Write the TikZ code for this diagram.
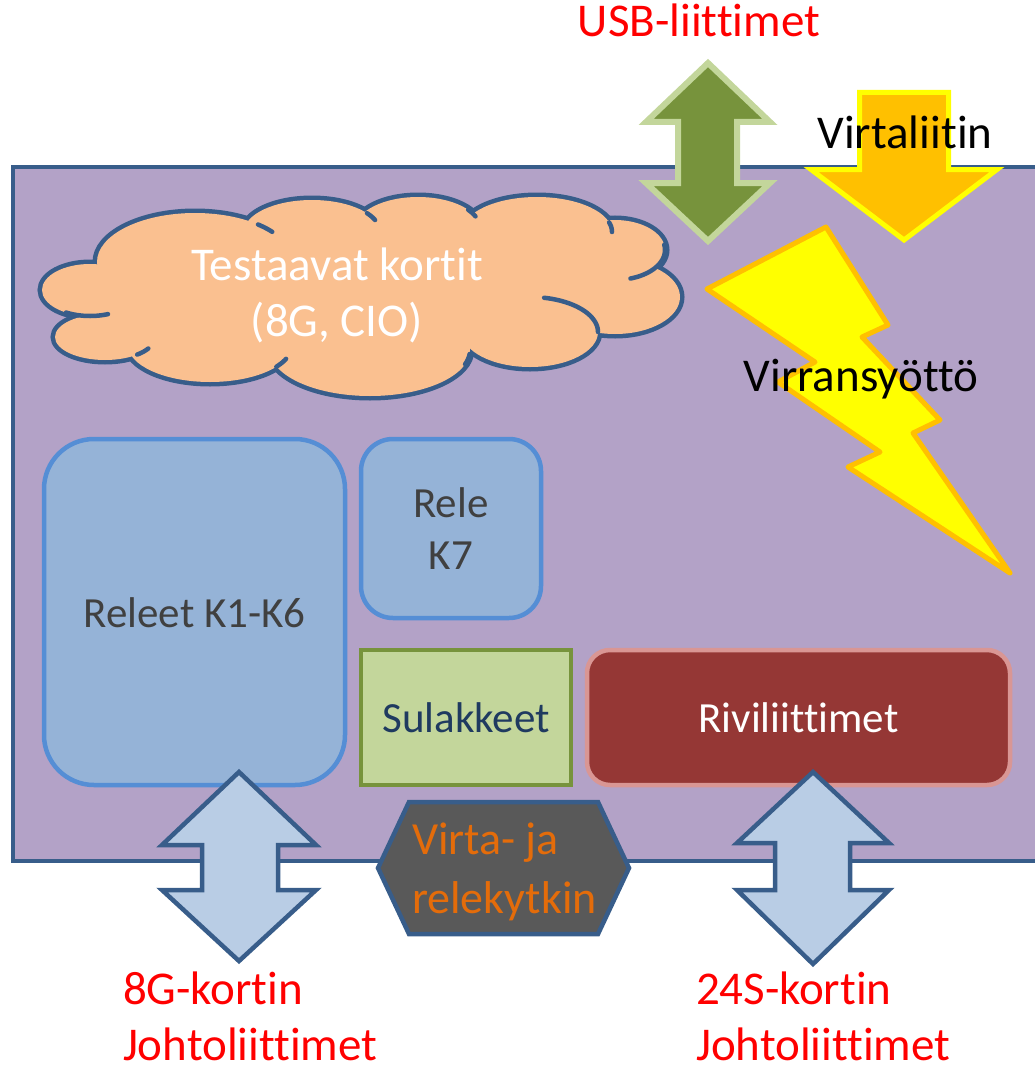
\documentclass[tikz,border=0pt]{standalone}
\usepackage{fontspec}
\setmainfont{Carlito}[Ligatures=NoCommon,RawFeature={-liga;-clig}]
\definecolor{navy}{HTML}{385D8A}
\definecolor{board}{HTML}{B3A2C7}
\definecolor{peach}{HTML}{FAC090}
\definecolor{relayfill}{HTML}{95B3D7}
\definecolor{relayedge}{HTML}{558ED5}
\definecolor{fusefill}{HTML}{C3D69B}
\definecolor{fuseedge}{HTML}{77933C}
\definecolor{fusetext}{HTML}{1F3A60}
\definecolor{termfill}{HTML}{953735}
\definecolor{termedge}{HTML}{D99694}
\definecolor{wirefill}{HTML}{B9CDE5}
\definecolor{amber}{HTML}{FFC000}
\definecolor{boltyellow}{HTML}{FFFF00}
\definecolor{switchfill}{HTML}{595959}
\definecolor{switchtext}{HTML}{E46C0A}
\definecolor{boxtext}{HTML}{404040}
\definecolor{labelred}{HTML}{FF0000}
\begin{document}
\begin{tikzpicture}[x=1pt,y=-1pt,
  every node/.style={inner sep=0pt,outer sep=0pt},
  bigfont/.style={font=\fontsize{47}{56}\selectfont},
  boxfont/.style={font=\fontsize{43}{52}\selectfont},
  cloudedge/.style={draw=navy,line width=9pt},
  cloudfill/.style={fill=peach},
  cloudtick/.style={draw=navy,line width=4.5pt,line cap=round},
  relaybox/.style={draw=relayedge,fill=relayfill,line width=4.5pt,boxfont,text=boxtext},
  fusebox/.style={draw=fuseedge,fill=fusefill,line width=4.5pt,boxfont,text=fusetext},
  termbox/.style={draw=termedge,fill=termfill,line width=4.5pt,boxfont,text=white,rounded corners=23pt},
  usbarrow/.style={draw=fusefill,fill=fuseedge,line width=6pt,line join=miter},
  pwrarrow/.style={draw=boltyellow,fill=amber,line width=5pt,line join=miter},
  wirearrow/.style={draw=navy,fill=wirefill,line width=4.5pt,line join=miter},
  boltshape/.style={draw=amber,fill=boltyellow,line width=5pt,line join=round},
  switchshape/.style={draw=navy,fill=switchfill,line width=4.5pt,line join=miter},
  redlabel/.style={bigfont,text=labelred,align=left}]

\useasboundingbox (0,0) rectangle (1035,1070);

% circuit board
\path[fill=board,draw=navy,line width=4pt] (1045,167) -- (13,167) -- (13,861) -- (1045,861);

% cloud of boards under test: puffs stroked, then filled over to leave the outline
\foreach \cx/\cy/\rx/\ry in {90/290/48/26, 105/337/50/23, 210/345/82/37, 370/350/100/46,
  530/332/68/35, 615/297/65/37, 615/250/50/30, 537/232/75/35, 418/228/62/31,
  312/232/68/32, 195/262/98/49}
  \path[cloudedge] (\cx,\cy) ellipse [x radius=\rx, y radius=\ry];
\foreach \cx/\cy/\rx/\ry in {90/290/48/26, 105/337/50/23, 210/345/82/37, 370/350/100/46,
  530/332/68/35, 615/297/65/37, 615/250/50/30, 537/232/75/35, 418/228/62/31,
  312/232/68/32, 195/262/98/49, 360/295/240/60, 200/310/100/40, 560/290/80/40}
  \path[cloudfill] (\cx,\cy) ellipse [x radius=\rx, y radius=\ry];
% inner puff arcs
\draw[cloudtick] plot[domain=-10:72,samples=25] ({615+50*cos(\x)},{250+30*sin(\x)});
\draw[cloudtick] plot[domain=-78:0,samples=25] ({530+68*cos(\x)},{332+35*sin(\x)});
\draw[cloudtick] plot[domain=68:120,samples=20] ({90+48*cos(\x)},{290+26*sin(\x)});
\draw[cloudtick] plot[domain=-50:-38,samples=6] ({195+98*cos(\x)},{262+49*sin(\x)});
\draw[cloudtick] plot[domain=-36:-22,samples=6] ({312+68*cos(\x)},{232+32*sin(\x)});
\draw[cloudtick] plot[domain=-36:-22,samples=6] ({418+62*cos(\x)},{228+31*sin(\x)});
\draw[cloudtick] plot[domain=-16:0,samples=6] ({537+75*cos(\x)},{232+35*sin(\x)});
\draw[cloudtick] plot[domain=5:18,samples=6] ({370+100*cos(\x)},{350+46*sin(\x)});
\draw[cloudtick] plot[domain=22:36,samples=6] ({210+82*cos(\x)},{345+37*sin(\x)});
\draw[cloudtick] plot[domain=30:50,samples=6] ({105+50*cos(\x)},{337+23*sin(\x)});
\node[bigfont,text=white,align=center] (cards) at (337,295) {Testaavat kortit\\(8G, CIO)};

% relays, fuses and terminal strip
\node[relaybox,rounded corners=50pt,minimum width=301pt,minimum height=346pt,
  text height=30pt,text depth=0pt] (k16) at (194.5,612) {Releet K1-K6};
\node[relaybox,rounded corners=32pt,minimum width=180pt,minimum height=179pt] (k7) at (451,528.5) {};
\node[boxfont,text=boxtext,align=center,anchor=base] (k7text) at (451,569) {Rele\\K7};
\node[fusebox,minimum width=210pt,minimum height=135pt,
  text height=29pt,text depth=0pt] (fuses) at (466,717.5) {Sulakkeet};
\node[termbox,minimum width=423pt,minimum height=135pt,
  text height=29pt,text depth=0pt] (terms) at (798.5,717.5) {Riviliittimet};

% USB connectors
\path[usbarrow] (708,63) -- (770,122) -- (737,122) -- (737,183) -- (770,183) -- (708,241)
  -- (646,183) -- (678,183) -- (678,122) -- (646,122) -- cycle;
% power connector
\path[pwrarrow] (859.5,92.5) -- (948.5,92.5) -- (948.5,169.5) -- (997,169.5) -- (904,240)
  -- (811,169.5) -- (859.5,169.5) -- cycle;
% power supply bolt
\path[boltshape] (707,289) -- (826,227) -- (888,325) -- (862,337) -- (940,420) -- (913,433)
  -- (1010,573) -- (848,467) -- (880,452) -- (778,382) -- (815,362) -- cycle;

% wire connectors
\path[wirearrow] (239,772) -- (316,845) -- (278,845) -- (278,890) -- (316,890) -- (239,961)
  -- (162,890) -- (202,890) -- (202,845) -- (162,845) -- cycle;
\path[wirearrow] (813,772) -- (889,843) -- (850,843) -- (850,890) -- (889,890) -- (813,964)
  -- (737,890) -- (775,890) -- (775,843) -- (737,843) -- cycle;

% power and relay switch
\path[switchshape] (409,802) -- (598,802) -- (629,868) -- (598,934) -- (409,934) -- (378,868) -- cycle;
\node[font=\fontsize{46}{59}\selectfont,text=switchtext,align=left,anchor=base west]
  (switch) at (412,913) {Virta- ja\\relekytkin};

% labels
\node[bigfont,text=labelred,anchor=base] (usb) at (699,37) {USB-liittimet};
\node[bigfont,anchor=base] (pwr) at (905,148) {Virtaliitin};
\node[bigfont,anchor=base] (supply) at (861,391) {Virransyöttö};
\node[redlabel,anchor=base west] (wire8g) at (123,1060) {8G-kortin\\Johtoliittimet};
\node[redlabel,anchor=base west] (wire24s) at (696,1060) {24S-kortin\\Johtoliittimet};
\end{tikzpicture}
\end{document}
